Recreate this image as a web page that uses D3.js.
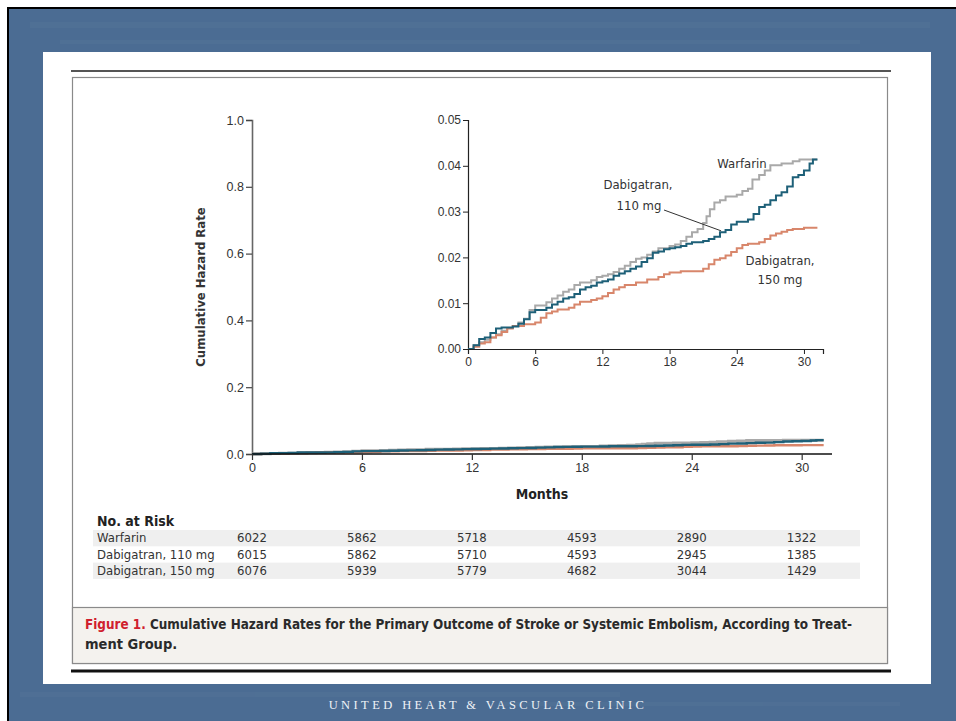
<!DOCTYPE html>
<html><head><meta charset="utf-8">
<script src="https://cdn.jsdelivr.net/npm/d3@7/dist/d3.min.js"></script>
<style>
html,body{margin:0;padding:0;background:#fff;}
svg{display:block;}
.t{font-family:"Liberation Sans Narrow","DejaVu Sans Condensed","DejaVu Sans",sans-serif;}
</style></head><body>
<svg id="c" width="956" height="721"></svg>
<script>
// ---------- DATA ----------
const xTicks = [0, 6, 12, 18, 24, 30];
const mainYTicks = [0, 0.2, 0.4, 0.6, 0.8, 1.0];
const insetYTicks = [0, 0.01, 0.02, 0.03, 0.04, 0.05];

const warfarinMonths = [0,0.5,1,1.5,2,2.5,3,3.5,4,4.5,5,5.5,6,7,7.5,8,8.5,9,9.5,10,11,11.5,12,12.5,13,13.5,14,14.5,15,15.5,16,16.5,17,18,18.5,19,19.5,20,20.5,21,21.3,21.6,22,22.5,23,24,24.5,25,25.4,26,26.5,27,28,29,29.6,31.2];
const warfarinRate   = [0,0.0008,0.0015,0.002,0.0025,0.0032,0.004,0.0046,0.005,0.0058,0.0066,0.0085,0.0095,0.0102,0.011,0.0117,0.0125,0.013,0.014,0.0145,0.015,0.0157,0.016,0.0163,0.0168,0.0175,0.0182,0.019,0.0197,0.02,0.0206,0.0213,0.022,0.0225,0.0228,0.0236,0.0245,0.0255,0.0262,0.0275,0.029,0.0305,0.032,0.0325,0.0333,0.0337,0.0345,0.035,0.037,0.038,0.039,0.0401,0.0405,0.041,0.0414,0.0414];

const dab110Months = [0,0.5,1,1.5,2,2.5,3,4,4.5,5,5.5,6,7,7.5,8,8.5,9,9.5,10,10.5,11,11.5,12,12.5,13,13.5,14,14.5,15,15.5,16,16.5,17,17.5,18,18.5,19,19.5,20,21,21.5,22,22.5,23,23.5,24,25,25.5,26,26.5,27,27.5,28,28.5,29,29.5,30,30.5,30.8,31.2];
const dab110Rate   = [0,0.0008,0.0022,0.0025,0.0035,0.0045,0.0047,0.0049,0.0055,0.0065,0.008,0.0085,0.009,0.0097,0.0103,0.011,0.0113,0.012,0.013,0.0135,0.0138,0.0145,0.0148,0.0152,0.016,0.0165,0.017,0.0175,0.018,0.019,0.0198,0.021,0.0213,0.0218,0.022,0.0222,0.0225,0.023,0.0233,0.0236,0.024,0.0245,0.0255,0.026,0.0272,0.0278,0.0283,0.0295,0.031,0.0315,0.0325,0.0335,0.0342,0.0355,0.0375,0.038,0.039,0.0405,0.0414,0.0414];

const dab150Months = [0,0.5,1,1.5,2,2.5,3,3.5,4,5,6,6.5,7,7.5,8,9,9.5,10,11,11.5,12,12.5,13,13.5,14,15,16,17,17.5,18,19,20,21,21.5,22,22.5,23,23.5,24,24.5,25,26,26.5,27,27.5,28,28.5,29,30,31.2];
const dab150Rate   = [0,0.0005,0.0012,0.0015,0.0025,0.003,0.0037,0.0045,0.005,0.0054,0.0058,0.0068,0.0078,0.0082,0.0086,0.009,0.0097,0.0103,0.0107,0.011,0.0115,0.0122,0.013,0.0135,0.014,0.0145,0.0152,0.0157,0.0163,0.0167,0.017,0.017,0.0175,0.0185,0.0195,0.0198,0.0204,0.0212,0.022,0.0227,0.023,0.0233,0.024,0.0248,0.0252,0.0256,0.026,0.0262,0.0265,0.0265];

const seriesNames = ["Warfarin", "Dabigatran, 110 mg", "Dabigatran, 150 mg"];
const seriesColors = ["#a9a9a9", "#1e6078", "#d8866b"];
const riskWarfarin = [6022, 5862, 5718, 4593, 2890, 1322];
const riskDab110   = [6015, 5862, 5710, 4593, 2945, 1385];
const riskDab150   = [6076, 5939, 5779, 4682, 3044, 1429];

// ---------- FRAME ----------
const svg = d3.select("#c");
svg.append("rect").attr("x",7).attr("y",7).attr("width",949).attr("height",714).attr("fill","#000");
svg.append("rect").attr("x",9).attr("y",9).attr("width",947).attr("height",712).attr("fill","#4b6c93");
const tex = svg.append("g").attr("opacity",0.025);
[[30,22,900,6],[60,40,800,4],[20,692,600,5],[500,702,400,4]].forEach(r=>
  tex.append("rect").attr("x",r[0]).attr("y",r[1]).attr("width",r[2]).attr("height",r[3]).attr("fill","#fff"));
svg.append("rect").attr("x",43).attr("y",52).attr("width",888).attr("height",632).attr("fill","#fff");

svg.append("line").attr("x1",71).attr("x2",891).attr("y1",71).attr("y2",71).attr("stroke","#555").attr("stroke-width",2);
svg.append("rect").attr("x",72.5).attr("y",77.5).attr("width",815).attr("height",586).attr("fill","none").attr("stroke","#8a8a8a").attr("stroke-width",1.2);
svg.append("rect").attr("x",72.5).attr("y",607.5).attr("width",815).attr("height",56).attr("fill","#f4f2ee").attr("stroke","#8a8a8a").attr("stroke-width",1.2);
svg.append("line").attr("x1",71).attr("x2",891).attr("y1",671).attr("y2",671).attr("stroke","#111").attr("stroke-width",3);

// ---------- MAIN CHART ----------
const x = d3.scaleLinear().domain([0, 31.6]).range([252, 831]);
const y = d3.scaleLinear().domain([0, 1]).range([454, 120]);

const seriesData = [
  warfarinMonths.map((m,i)=>[m, warfarinRate[i]]),
  dab110Months.map((m,i)=>[m, dab110Rate[i]]),
  dab150Months.map((m,i)=>[m, dab150Rate[i]])
];

const gMain = svg.append("g").attr("class","t");
const yAx = gMain.append("g").attr("transform","translate(252,0)")
  .call(d3.axisLeft(y).tickValues(mainYTicks).tickFormat(d3.format(".1f")).tickSize(6).tickPadding(2));
yAx.select(".domain").attr("stroke","#666").attr("stroke-width",1.6);
yAx.selectAll(".tick line").attr("stroke","#444").attr("stroke-width",1.2);
yAx.selectAll("text").attr("font-size",12.5).attr("fill","#333");

const mainLine = d3.line().x(d=>x(d[0])).y(d=>y(d[1])).curve(d3.curveStepAfter);
const order = [0,2,1];
order.forEach(i=>{
  gMain.append("path").datum(seriesData[i]).attr("d",mainLine).attr("fill","none")
    .attr("stroke",seriesColors[i]).attr("stroke-width",i===0?3:2.4);
});

const xAx = gMain.append("g").attr("transform","translate(0,454)")
  .call(d3.axisBottom(x).tickValues(xTicks).tickSize(6).tickPadding(3));
xAx.select(".domain").attr("stroke","#111").attr("stroke-width",1.6).attr("d","M252,0H832");
xAx.selectAll(".tick line").attr("stroke","#333").attr("stroke-width",1.2);
xAx.selectAll("text").attr("font-size",12.5).attr("fill","#333");

gMain.append("text").attr("x",542).attr("y",499).attr("text-anchor","middle")
  .attr("font-size",14).attr("font-weight","bold").attr("fill","#222").text("Months");
gMain.append("text").attr("transform","translate(205,287) rotate(-90)").attr("text-anchor","middle")
  .attr("font-size",13).attr("font-weight","bold").attr("fill","#333").text("Cumulative Hazard Rate");

// ---------- INSET ----------
const xi = d3.scaleLinear().domain([0, 31.7]).range([468, 823]);
const yi = d3.scaleLinear().domain([0, 0.05]).range([349, 120]);
const gIn = svg.append("g").attr("class","t");
const yiAx = gIn.append("g").attr("transform","translate(468,0)")
  .call(d3.axisLeft(yi).tickValues(insetYTicks).tickFormat(d3.format(".2f")).tickSize(5).tickPadding(2));
yiAx.select(".domain").attr("stroke","#222").attr("stroke-width",1.2);
yiAx.selectAll(".tick line").attr("stroke","#222");
yiAx.selectAll("text").attr("font-size",12).attr("fill","#333");

const inLine = d3.line().x(d=>xi(d[0])).y(d=>yi(d[1])).curve(d3.curveStepAfter);
order.forEach(i=>{
  gIn.append("path").datum(seriesData[i]).attr("d",inLine).attr("fill","none")
    .attr("stroke",seriesColors[i]).attr("stroke-width",2);
});
const xiAx = gIn.append("g").attr("transform","translate(0,349)")
  .call(d3.axisBottom(xi).tickValues(xTicks).tickSize(5).tickPadding(3));
xiAx.select(".domain").attr("stroke","#222").attr("stroke-width",1.2);
xiAx.selectAll(".tick line").attr("stroke","#222");
xiAx.selectAll("text").attr("font-size",12).attr("fill","#333");

const ann = gIn.append("g").attr("font-size",13).attr("fill","#333").attr("text-anchor","middle");
ann.append("text").attr("x",742).attr("y",168).text("Warfarin");
ann.append("text").attr("x",638).attr("y",189).text("Dabigatran,");
ann.append("text").attr("x",639).attr("y",210).text("110 mg");
ann.append("text").attr("x",780).attr("y",265).text("Dabigatran,");
ann.append("text").attr("x",780).attr("y",284).text("150 mg");
gIn.append("line").attr("x1",664).attr("y1",210).attr("x2",xi(22.6)).attr("y2",yi(0.0258))
  .attr("stroke","#333").attr("stroke-width",1);

// ---------- RISK TABLE ----------
const gT = svg.append("g").attr("class","t");
gT.append("text").attr("x",97).attr("y",526).attr("font-size",14).attr("font-weight","bold").attr("fill","#222").text("No. at Risk");
const riskRows = [riskWarfarin, riskDab110, riskDab150];
riskRows.forEach((row,r)=>{
  const top = 530 + r*16.3;
  if (r !== 1) gT.append("rect").attr("x",93).attr("y",top).attr("width",767).attr("height",16.3).attr("fill","#efefef");
  gT.append("text").attr("x",97).attr("y",top+12.3).attr("font-size",13).attr("fill","#333").text(seriesNames[r]);
  row.forEach((v,j)=>{
    gT.append("text").attr("x",x(xTicks[j])).attr("y",top+12.3).attr("text-anchor","middle")
      .attr("font-size",13).attr("fill","#333").text(v);
  });
});

// ---------- CAPTION ----------
const cap = svg.append("text").attr("class","t").attr("x",85).attr("y",629).attr("font-size",14.5).attr("font-weight","bold")
  .attr("textLength",767).attr("lengthAdjust","spacingAndGlyphs");
cap.append("tspan").attr("fill","#d0202e").text("Figure 1. ");
cap.append("tspan").attr("fill","#2a2a2a").text("Cumulative Hazard Rates for the Primary Outcome of Stroke or Systemic Embolism, According to Treat-");
svg.append("text").attr("class","t").attr("x",85).attr("y",649).attr("font-size",14.5).attr("font-weight","bold")
  .attr("fill","#2a2a2a").text("ment Group.");

// ---------- FOOTER ----------
svg.append("text").attr("x",488).attr("y",709).attr("text-anchor","middle")
  .attr("font-family","'Liberation Serif',serif").attr("font-size",12.5).attr("letter-spacing",3.4)
  .attr("fill","#eef2f7").text("UNITED HEART & VASCULAR CLINIC");
</script>
</body></html>
